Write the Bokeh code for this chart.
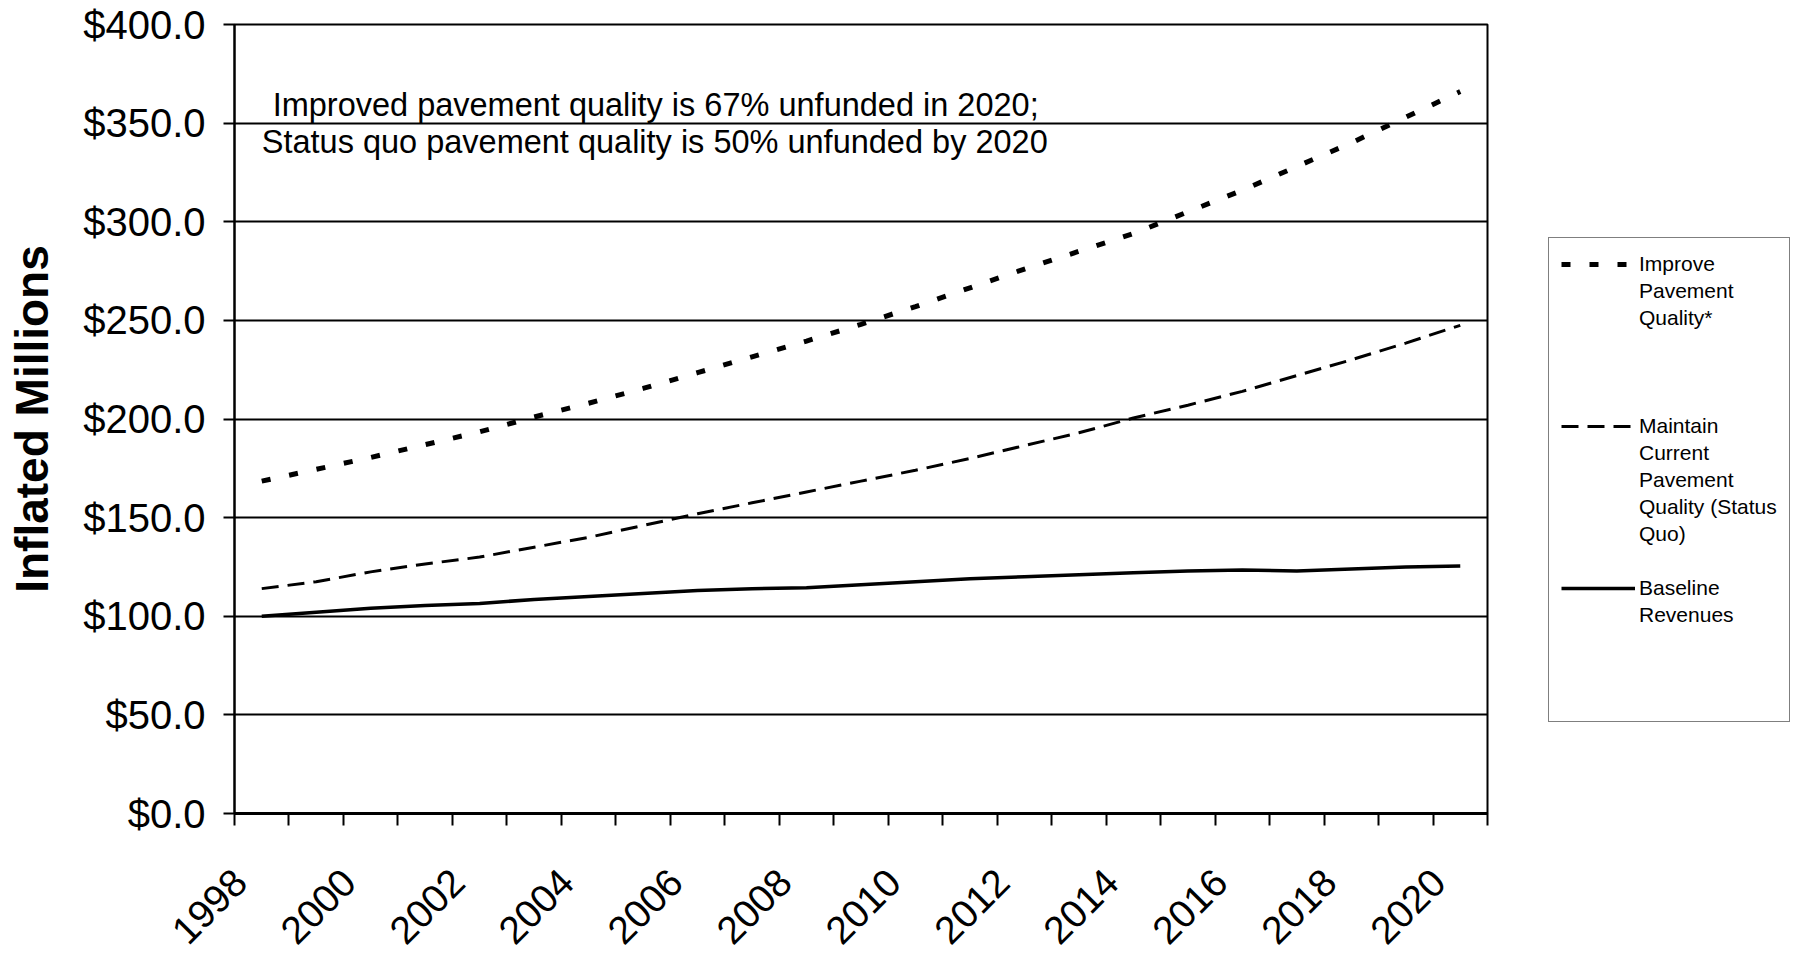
import numpy as np
from bokeh.plotting import figure
from bokeh.layouts import row
from bokeh.models import (Range1d, FixedTicker, PrintfTickFormatter, Legend,
                          LegendItem, Label, CustomJSTickFormatter)
from bokeh.embed import file_html
from bokeh.resources import INLINE

# ---- data ----
years = list(range(1998, 2021))
improve = [168.5, 174.5, 180.5, 187, 193.5, 201, 208, 215.5, 223.5, 231.5, 239.5,
           248, 257, 266.5, 276, 285, 294, 305, 316, 328, 340, 353, 366]
maintain = [114, 117.5, 122.5, 126.5, 130, 135, 140, 146, 152, 157.5, 163,
            168.5, 174, 180, 186.5, 193, 200.5, 207, 214, 222, 230, 238.5, 247.5]
baseline = [100, 102, 104, 105.5, 106.5, 108.5, 110, 111.5, 113, 114, 114.5,
            116, 117.5, 119, 120, 121, 122, 123, 123.5, 123, 124, 125, 125.5]
y_ticks = [0, 50, 100, 150, 200, 250, 300, 350, 400]
x_label_years = list(range(1998, 2021, 2))
series_lines = [["Improve", "Pavement", "Quality*"],
                ["Maintain", "Current", "Pavement", "Quality (Status", "Quo)"],
                ["Baseline", "Revenues"]]
note_lines = ["Improved pavement quality is 67% unfunded in 2020;",
              "Status quo pavement quality is 50% unfunded by 2020"]

FONT = "Liberation Sans"
LABEL_SHIFT = -0.40  # rotated year labels end a little left of the category centre

STYLES = [dict(line_color="black", line_width=5, line_dash="9 19", line_cap="butt"),
          dict(line_color="black", line_width=3, line_dash="17 9"),
          dict(line_color="black", line_width=3.5)]
SERIES = [improve, maintain, baseline]

p = figure(width=1492, height=958, output_backend="svg", toolbar_location=None,
           x_range=Range1d(years[0] - 0.5, years[-1] + 0.5),
           y_range=Range1d(0, 400),
           min_border_left=234, min_border_right=5,
           min_border_top=24, min_border_bottom=138)
p.background_fill_color = "white"
p.border_fill_color = "white"
p.outline_line_color = "black"
p.outline_line_width = 2

# x axis
p.xaxis.ticker = FixedTicker(ticks=[y + LABEL_SHIFT for y in x_label_years],
                             minor_ticks=[y - 0.5 for y in years] + [years[-1] + 0.5])
p.xaxis.formatter = CustomJSTickFormatter(code="return Math.round(tick).toString();")
p.xaxis.major_tick_out = 0
p.xaxis.major_tick_in = 0
p.xaxis.minor_tick_out = 12
p.xaxis.minor_tick_in = 0
p.xaxis.minor_tick_line_color = "black"
p.xaxis.minor_tick_line_width = 2
p.xaxis.axis_line_color = "black"
p.xaxis.axis_line_width = 3
p.xaxis.major_label_orientation = np.pi / 4
p.xaxis.major_label_text_font = FONT
p.xaxis.major_label_text_font_size = "39px"
p.xaxis.major_label_text_color = "black"
p.xaxis.major_label_standoff = 50

# y axis
p.yaxis.ticker = FixedTicker(ticks=y_ticks)
p.yaxis.formatter = PrintfTickFormatter(format="$%.1f")
p.yaxis.major_tick_out = 11
p.yaxis.major_tick_in = 0
p.yaxis.major_tick_line_color = "black"
p.yaxis.major_tick_line_width = 2
p.yaxis.minor_tick_out = 0
p.yaxis.minor_tick_in = 0
p.yaxis.axis_line_color = "black"
p.yaxis.axis_line_width = 2
p.yaxis.major_label_text_font = FONT
p.yaxis.major_label_text_font_size = "40px"
p.yaxis.major_label_text_color = "black"
p.yaxis.major_label_standoff = 18
p.yaxis.axis_label = "Inflated Millions"
p.yaxis.axis_label_text_font = FONT
p.yaxis.axis_label_text_font_size = "46px"
p.yaxis.axis_label_text_font_style = "bold"
p.yaxis.axis_label_text_color = "black"
p.yaxis.axis_label_standoff = 22

p.xgrid.visible = False
p.ygrid.grid_line_color = "black"
p.ygrid.grid_line_width = 2
p.ygrid.grid_line_alpha = 1

for vals, st in zip(SERIES, STYLES):
    p.line(years, vals, **st)

p.add_layout(Label(x=1998.2, y=359.3, text=note_lines[0], text_font=FONT,
                   text_font_size="32.5px", text_baseline="middle",
                   text_color="black"))
p.add_layout(Label(x=1998.0, y=340.2, text=note_lines[1], text_font=FONT,
                   text_font_size="32.5px", text_baseline="middle",
                   text_color="black"))

# ---- legend panel (a figure of its own, to the right of the chart) ----
lp = figure(width=300, height=958, output_backend="svg", toolbar_location=None,
            x_range=Range1d(0, 1), y_range=Range1d(0, 1),
            x_axis_type=None, y_axis_type=None,
            min_border_left=0, min_border_right=0,
            min_border_top=0, min_border_bottom=0)
lp.outline_line_color = None
lp.background_fill_color = "white"
lp.border_fill_color = "white"
lp.xgrid.visible = False
lp.ygrid.visible = False

# same series, far outside this panel's ranges: they only feed the legend keys
keys = [lp.line(years, vals, **st) for vals, st in zip(SERIES, STYLES)]

gaps_after = [3, 1, 3]
items = []
for rend, lines, gap in zip(keys, series_lines, gaps_after):
    items.append(LegendItem(label=lines[0], renderers=[rend]))
    for ln in lines[1:]:
        items.append(LegendItem(label=ln, renderers=[]))
    for _ in range(gap):
        items.append(LegendItem(label=" ", renderers=[]))

legend = Legend(items=items, location=(56, 91))
legend.margin = 0
legend.padding = 12
legend.spacing = 0
legend.glyph_width = 74
legend.glyph_height = 20
legend.label_standoff = 4
legend.label_width = 130
legend.label_height = 27
legend.label_text_font = FONT
legend.label_text_font_size = "21px"
legend.label_text_color = "black"
legend.border_line_color = "black"
legend.border_line_width = 1.5
legend.background_fill_color = "white"
legend.background_fill_alpha = 1
lp.add_layout(legend, "center")

layout = row(p, lp)
open("out.html", "w").write(file_html(layout, INLINE))
